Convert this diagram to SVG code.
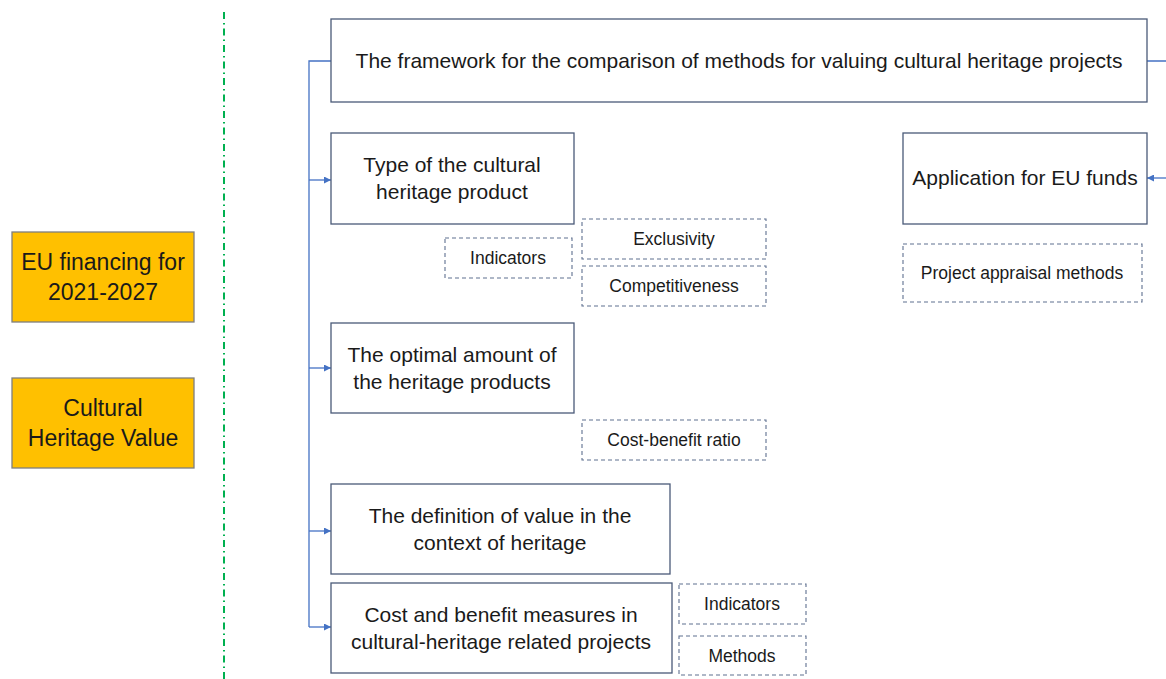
<svg xmlns="http://www.w3.org/2000/svg" width="1166" height="679" viewBox="0 0 1166 679">
<style>
.box{fill:#fff;stroke:#4a5a78;stroke-width:1.3}
.dbox{fill:#fff;stroke:#5f7090;stroke-width:1.1;stroke-dasharray:4 3}
.obox{fill:#FFC000;stroke:#7f7f7f;stroke-width:1.3}
.t{font-family:"Liberation Sans",Arial,sans-serif;font-size:21px;fill:#1a1a1a;text-anchor:middle}
.s{font-family:"Liberation Sans",Arial,sans-serif;font-size:17.5px;fill:#1a1a1a;text-anchor:middle}
.o{font-family:"Liberation Sans",Arial,sans-serif;font-size:23px;fill:#1a1a1a;text-anchor:middle}
.c{fill:none;stroke:#4472C4;stroke-width:1.3}
</style>
<defs>
<marker id="ah" viewBox="0 0 10 10" refX="10" refY="5" markerWidth="7" markerHeight="7" markerUnits="userSpaceOnUse" orient="auto">
<path d="M0,0 L10,5 L0,10 z" fill="#4472C4"/>
</marker>
</defs>
<rect width="1166" height="679" fill="#fff"/>
<line x1="224" y1="12" x2="224" y2="679" stroke="#00B050" stroke-width="2" stroke-dasharray="7 4 1.5 4"/>
<g id="connectors">
<path class="c" d="M331,61 H309 V627"/>
<line class="c" x1="309" y1="180" x2="331" y2="180" marker-end="url(#ah)"/>
<line class="c" x1="309" y1="368" x2="331" y2="368" marker-end="url(#ah)"/>
<line class="c" x1="309" y1="531" x2="331" y2="531" marker-end="url(#ah)"/>
<line class="c" x1="309" y1="627" x2="331" y2="627" marker-end="url(#ah)"/>
<path class="c" d="M1147,61 H1168 V178"/>
<line class="c" x1="1168" y1="178" x2="1147" y2="178" marker-end="url(#ah)"/>
</g>
<g id="eu-financing"><rect class="obox" x="12" y="232" width="182" height="90"/><text class="o" x="103" y="270">EU financing for</text><text class="o" x="103" y="300">2021-2027</text></g>
<g id="cultural-value"><rect class="obox" x="12" y="378" width="182" height="90"/><text class="o" x="103" y="416">Cultural</text><text class="o" x="103" y="446">Heritage Value</text></g>
<g id="framework"><rect class="box" x="331" y="19" width="816" height="83"/><text class="t" x="739" y="68">The framework for the comparison of methods for valuing cultural heritage projects</text></g>
<g id="type"><rect class="box" x="331" y="133" width="243" height="91"/><text class="t" x="452" y="172">Type of the cultural</text><text class="t" x="452" y="199">heritage product</text></g>
<g id="indicators1"><rect class="dbox" x="445" y="238" width="127" height="40"/><text class="s" x="508" y="264">Indicators</text></g>
<g id="exclusivity"><rect class="dbox" x="582" y="219" width="184" height="40"/><text class="s" x="674" y="245">Exclusivity</text></g>
<g id="competitiveness"><rect class="dbox" x="582" y="266" width="184" height="40"/><text class="s" x="674" y="292">Competitiveness</text></g>
<g id="optimal"><rect class="box" x="331" y="323" width="243" height="90"/><text class="t" x="452" y="362">The optimal amount of</text><text class="t" x="452" y="389">the heritage products</text></g>
<g id="cost-benefit-ratio"><rect class="dbox" x="582" y="420" width="184" height="40"/><text class="s" x="674" y="446">Cost-benefit ratio</text></g>
<g id="definition"><rect class="box" x="331" y="484" width="339" height="90"/><text class="t" x="500" y="523">The definition of value in the</text><text class="t" x="500" y="550">context of heritage</text></g>
<g id="cost-benefit-measures"><rect class="box" x="331" y="583" width="341" height="90"/><text class="t" x="501" y="622">Cost and benefit measures in</text><text class="t" x="501" y="649">cultural-heritage related projects</text></g>
<g id="indicators2"><rect class="dbox" x="679" y="584" width="127" height="40"/><text class="s" x="742" y="610">Indicators</text></g>
<g id="methods"><rect class="dbox" x="679" y="636" width="127" height="39"/><text class="s" x="742" y="662">Methods</text></g>
<g id="application"><rect class="box" x="903" y="133" width="244" height="91"/><text class="t" x="1025" y="185">Application for EU funds</text></g>
<g id="appraisal"><rect class="dbox" x="903" y="244" width="239" height="58"/><text class="s" x="1022" y="279">Project appraisal methods</text></g>
</svg>
